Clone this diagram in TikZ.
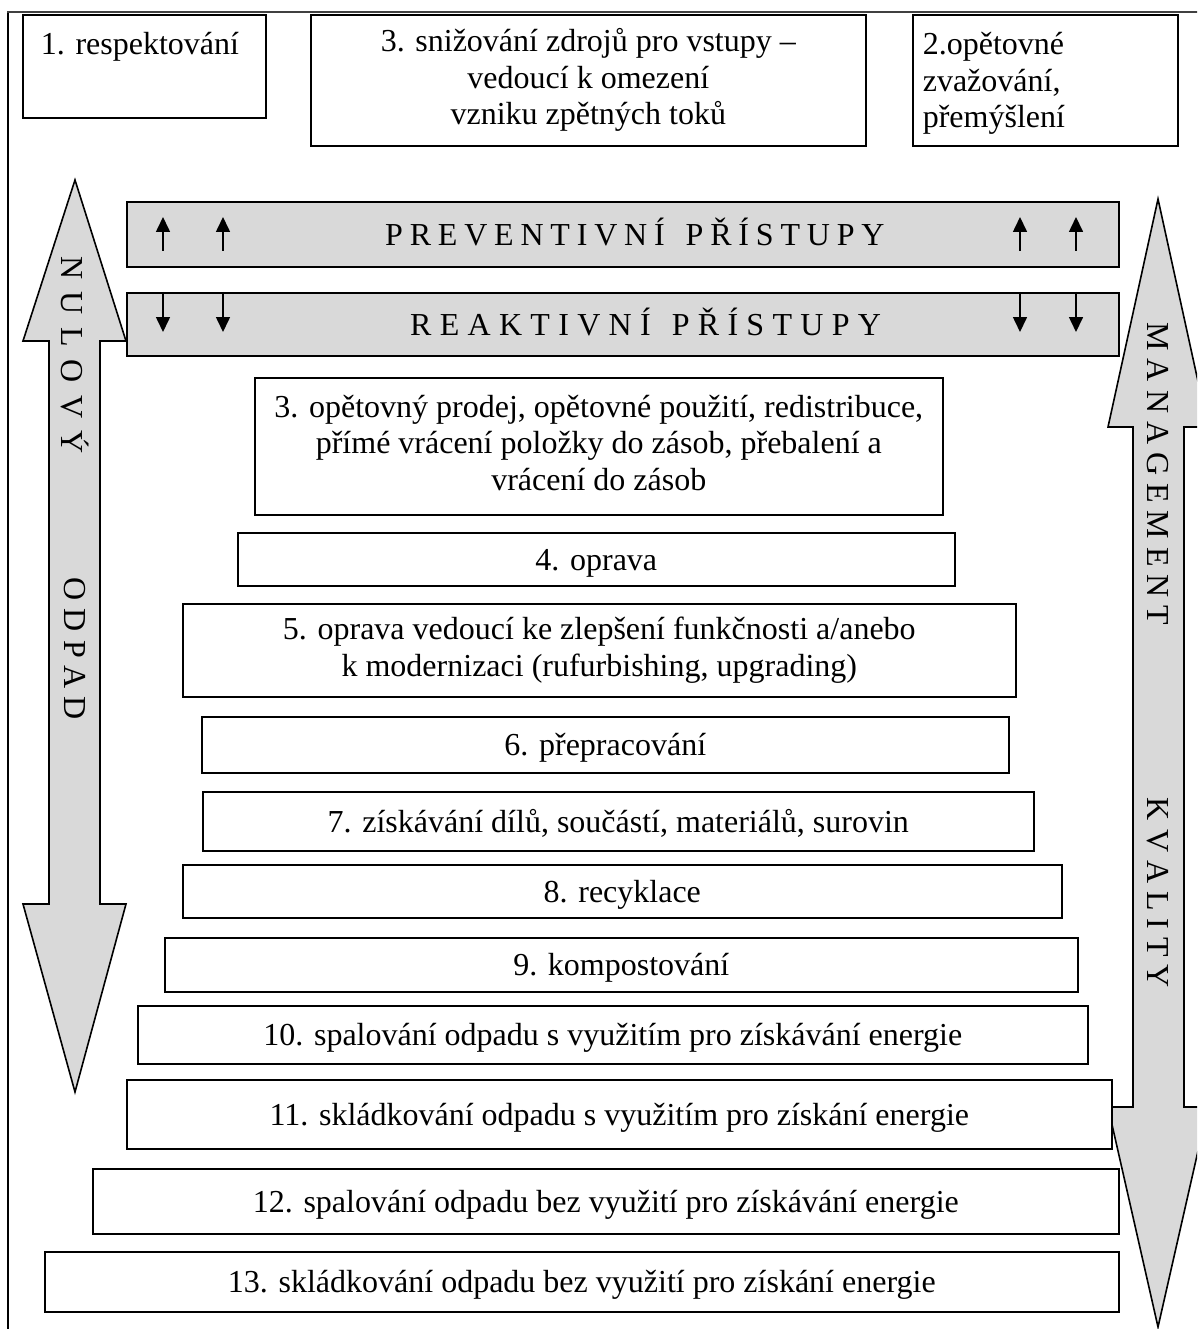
\documentclass[tikz,border=0pt]{standalone}
\usepackage{fontspec}
\setmainfont{Liberation Serif}
\usetikzlibrary{arrows.meta}
\definecolor{barfill}{RGB}{217,217,217}
% strut with the line ascent/descent of the serif face
\newcommand{\linestrut}{\rule[-0.216em]{0pt}{1.107em}}
% tracking used in the spaced-out capitals
\newcommand{\ls}{\hspace{6.8pt}}
\newcommand{\lsw}{\hspace{8.3pt}}
\newcommand{\ws}{\hspace{21pt}}
\begin{document}
\begin{tikzpicture}[x=1pt,y=-1pt,
  txt/.style={font=\fontsize{32pt}{36.5pt}\selectfont},
  stage/.style={draw, line width=1.6pt, fill=white, inner sep=0pt, anchor=north west, align=center, txt,
    execute at begin node=\linestrut, execute at end node=\linestrut},
  bar/.style={draw, line width=1.6pt, fill=barfill, inner sep=0pt, anchor=north west},
  bigarrow/.style={draw, line width=1.6pt, fill=barfill, line join=miter},
  tinyarrow/.style={line width=1.6pt, -{Triangle[length=15pt,width=14pt]}},
]
\useasboundingbox (0,0) rectangle (1197,1329);
\clip (0,0) rectangle (1197,1329);

% outer frame
\draw[line width=1.6pt] (8,1335) -- (8,12);
\draw[line width=2.4pt, black!75] (7,12) -- (1200,12);

% two-headed side arrows
\draw[bigarrow] (75,180) -- (126,341) -- (100,341) -- (100,904) -- (126,904)
  -- (75,1092) -- (23,904) -- (49,904) -- (49,341) -- (23,341) -- cycle;
\draw[bigarrow] (1158,199) -- (1208,427) -- (1184,427) -- (1184,1107) -- (1208,1107)
  -- (1158,1327) -- (1108,1107) -- (1133,1107) -- (1133,427) -- (1108,427) -- cycle;

\node[txt, rotate=-90] (nul) at (75,355) {N\hspace{12.5pt}U\hspace{12.5pt}L\hspace{12.5pt}O\hspace{12.5pt}V\hspace{12.5pt}Ý};
\node[txt, rotate=-90] (odp) at (75,649) {O D P A D};
\node[txt, rotate=-90] (man) at (1158,474) {M A N A G E M E N T};
\node[txt, rotate=-90] (kva) at (1158,893) {K V A L I T Y};

% top row
\node[stage, minimum width=243pt, minimum height=103pt] (r1) at (22,14) {};
\node[txt, anchor=base] (r1t) at (140,55) {1. respektování};
\node[stage, minimum width=555pt, minimum height=131pt] (r3) at (310,14)
  {3. snižování zdrojů pro vstupy –\\vedoucí k omezení\\vzniku zpětných toků};
\node[stage, align=left, text width=245pt, inner xsep=10pt, minimum height=131pt] (r2) at (912,14)
  {2.opětovné\\zvažování,\\přemýšlení};

% approach bars
\node[bar, minimum width=992pt, minimum height=65pt] (prev) at (126,201) {};
\node[bar, minimum width=992pt, minimum height=63pt] (reak) at (126,292) {};
\node[txt, anchor=west, inner xsep=0pt] (prevt) at (385,232)
  {P\ls R\ls E\ls V\ls E\ls N\ls T\ls I\ls V\ls N\ls Í\ws P\ls Ř\ls Í\ls S\ls T\ls U\ls P\ls Y};
\node[txt, anchor=west, inner xsep=0pt] (reakt) at (410,322)
  {R\lsw E\lsw A\lsw K\lsw T\lsw I\lsw V\lsw N\lsw Í\ws P\lsw Ř\lsw Í\lsw S\lsw T\lsw U\lsw P\lsw Y};

\foreach \i/\x in {1/163,2/223,3/1020,4/1076}{
  \coordinate (pu\i) at (\x,251);
  \coordinate (pv\i) at (\x,217);
  \draw[tinyarrow] (pu\i) -- (pv\i);
  \coordinate (rd\i) at (\x,292);
  \coordinate (re\i) at (\x,332);
  \draw[tinyarrow] (rd\i) -- (re\i);
}

% hierarchy of stages
\node[stage, minimum width=688pt, minimum height=137pt] (s3) at (254,377)
  {3. opětovný prodej, opětovné použití, redistribuce,\\přímé vrácení položky do zásob, přebalení a\\vrácení do zásob};
\node[stage, minimum width=717pt, minimum height=53pt] (s4) at (237,532) {4. oprava};
\node[stage, minimum width=833pt, minimum height=93pt] (s5) at (182,603)
  {5. oprava vedoucí ke zlepšení funkčnosti a/anebo\\k modernizaci (rufurbishing, upgrading)};
\node[stage, minimum width=807pt, minimum height=56pt] (s6) at (201,716) {6. přepracování};
\node[stage, minimum width=831pt, minimum height=59pt] (s7) at (202,791) {7. získávání dílů, součástí, materiálů, surovin};
\node[stage, minimum width=879pt, minimum height=53pt] (s8) at (182,864) {8. recyklace};
\node[stage, minimum width=913pt, minimum height=54pt] (s9) at (164,937) {9. kompostování};
\node[stage, minimum width=950pt, minimum height=58pt] (s10) at (137,1005) {10. spalování odpadu s využitím pro získávání energie};
\node[stage, minimum width=985pt, minimum height=69pt] (s11) at (126,1079) {11. skládkování odpadu s využitím pro získání energie};
\node[stage, minimum width=1026pt, minimum height=65pt] (s12) at (92,1168) {12. spalování odpadu bez využití pro získávání energie};
\node[stage, minimum width=1074pt, minimum height=60pt] (s13) at (44,1251) {13. skládkování odpadu bez využití pro získání energie};
\end{tikzpicture}
\end{document}
